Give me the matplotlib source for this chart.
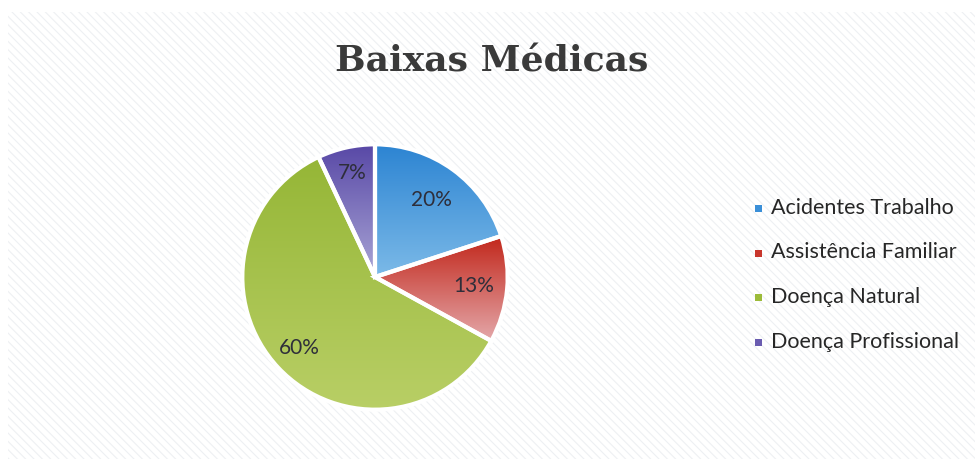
import matplotlib.pyplot as plt
import numpy as np
from matplotlib.colors import LinearSegmentedColormap
from matplotlib.patches import Rectangle

# Data
categories = ["Acidentes Trabalho", "Assistência Familiar", "Doença Natural", "Doença Profissional"]
values = [20, 13, 60, 7]
title = "Baixas Médicas"

# colours: (top, bottom) of each slice gradient
grad_colors = [("#2c84d2", "#7cbae8"),
               ("#c2271b", "#e4a8aa"),
               ("#95b636", "#b9cf66"),
               ("#5848a6", "#aaa6d6")]
legend_colors = ["#3a8fd8", "#c8362c", "#9cbb3a", "#6a5cb0"]
label_radius = [0.72, 0.75, 0.78, 0.80]

plt.rcParams["hatch.linewidth"] = 0.8

W, H = 975, 459
fig = plt.figure(figsize=(W / 100, H / 100), dpi=100)
fig.patch.set_facecolor("white")

# hatched chart-area background
bg = Rectangle((8 / W, 0), 1 - 8 / W, 1 - 12 / H, transform=fig.transFigure,
               facecolor="white", edgecolor="#eef0f3", hatch="\\\\\\\\",
               linewidth=0, zorder=-5)
fig.patches.append(bg)

fig.text(492 / W, 1 - 61 / H, title, ha="center", va="center",
         family="DejaVu Serif", fontweight="bold", fontsize=26, color="#3a3a3a")

# pie axes
cx, cy, r = 375, 459 - 277, 134
ax = fig.add_axes([(cx - r) / W, (cy - r) / H, 2 * r / W, 2 * r / H])
ax.set_facecolor("none")
ax.set_zorder(2)

wedges, texts, autotexts = ax.pie(values, startangle=90, counterclock=False,
                                  colors=legend_colors, radius=1,
                                  autopct=lambda p: f"{p:.0f}%",
                                  wedgeprops=dict(edgecolor="white", linewidth=3))

ax.set_aspect("equal")
ax.axis("off")

grad = np.linspace(0, 1, 256).reshape(-1, 1)
for w, (c_top, c_bot) in zip(wedges, grad_colors):
    data = w.get_path().vertices
    ymin, ymax = data[:, 1].min(), data[:, 1].max()
    cmap = LinearSegmentedColormap.from_list("g", [c_top, c_bot])
    im = ax.imshow(grad, cmap=cmap, extent=[-1, 1, ymin, ymax], origin="upper",
                   aspect="auto", zorder=2, interpolation="bilinear")
    im.set_clip_path(w)
    w.set_facecolor("none")
    w.set_zorder(3)

ax.set_xlim(-1.01, 1.01)
ax.set_ylim(-1.01, 1.01)

# label positions
for t, w, rad in zip(autotexts, wedges, label_radius):
    ang = np.deg2rad((w.theta1 + w.theta2) / 2)
    t.set_position((rad * np.cos(ang), rad * np.sin(ang)))
    t.set_fontsize(15)
    t.set_color("#2e2e3a")
    t.set_family("Lato")
    t.set_zorder(5)

# legend
lx, ly0, dy = 758 / W, 1 - 208 / H, 44.5 / H
for i, (name, c) in enumerate(zip(categories, legend_colors)):
    y = ly0 - i * dy
    fig.patches.append(Rectangle((lx - 3.5 / W, y - 4 / H), 7 / W, 7 / H,
                                 transform=fig.transFigure, facecolor=c,
                                 edgecolor="none", zorder=3))
    fig.text(lx + 13 / W, y, name, ha="left", va="center", family="Lato",
             fontsize=15.5, color="#262626")

fig.savefig("out.png", dpi=100, facecolor=fig.get_facecolor())
